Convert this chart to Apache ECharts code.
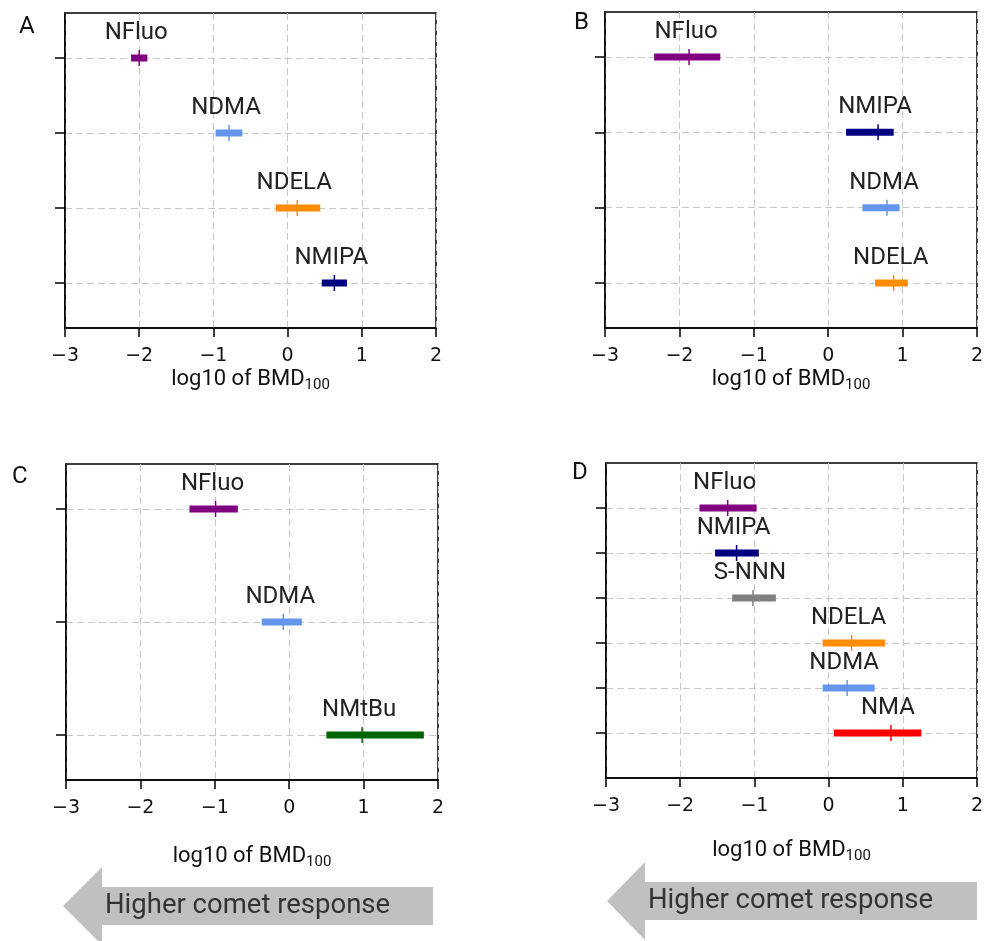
<!DOCTYPE html>
<html>
<head>
<meta charset="utf-8">
<script src="https://cdn.jsdelivr.net/npm/echarts@6/dist/echarts.min.js"></script>
<style>
html, body { margin: 0; padding: 0; background: #fff; }
#chart { width: 993px; height: 941px; }
</style>
</head>
<body>
<div id="chart"></div>
<script>
// panel A
var namesA = ['NFluo', 'NDMA', 'NDELA', 'NMIPA'];
var lowA   = [-2.11, -0.97, -0.16, 0.46];
var medA   = [-2.00, -0.79, 0.13, 0.63];
var highA  = [-1.89, -0.61, 0.44, 0.80];
// panel B
var namesB = ['NFluo', 'NMIPA', 'NDMA', 'NDELA'];
var lowB   = [-2.34, 0.24, 0.46, 0.63];
var medB   = [-1.87, 0.67, 0.79, 0.88];
var highB  = [-1.45, 0.88, 0.96, 1.07];
// panel C
var namesC = ['NFluo', 'NDMA', 'NMtBu'];
var lowC   = [-1.34, -0.37, 0.50];
var medC   = [-0.99, -0.08, 0.98];
var highC  = [-0.69, 0.17, 1.81];
// panel D
var namesD = ['NFluo', 'NMIPA', 'S-NNN', 'NDELA', 'NDMA', 'NMA'];
var lowD   = [-1.74, -1.53, -1.30, -0.08, -0.08, 0.07];
var medD   = [-1.36, -1.24, -1.02, 0.31, 0.25, 0.84];
var highD  = [-0.97, -0.94, -0.71, 0.76, 0.62, 1.25];

var xTicks = [-3, -2, -1, 0, 1, 2];

var colors = {
    'NFluo': '#800080',
    'NDMA': '#6495ed',
    'NDELA': '#ff8c00',
    'NMIPA': '#000080',
    'NMtBu': '#006400',
    'S-NNN': '#808080',
    'NMA': '#ff0000'
};

var FONT = 'Roboto, "DejaVu Sans", sans-serif';

var panels = [
    {letter: 'A', names: namesA, low: lowA, med: medA, high: highA, grid: {left: 65, top: 13, width: 371, height: 315}, nameGap: 38},
    {letter: 'B', names: namesB, low: lowB, med: medB, high: highB, grid: {left: 605, top: 12, width: 372, height: 316}, nameGap: 38},
    {letter: 'C', names: namesC, low: lowC, med: medC, high: highC, grid: {left: 66, top: 464, width: 372, height: 316}, nameGap: 63},
    {letter: 'D', names: namesD, low: lowD, med: medD, high: highD, grid: {left: 606, top: 463, width: 371, height: 315}, nameGap: 59}
];

var grids = [], xAxes = [], yAxes = [], series = [];
var gridLine = {show: true, lineStyle: {color: '#c8c8c8', type: [7, 4], width: 1}};

panels.forEach(function (p, k) {
    var n = p.names.length;
    // rows sit 45px inside the frame at top and bottom
    var step = (p.grid.height - 90) / (n - 1);
    var pad = 45 / step;

    grids.push(Object.assign({show: true, borderColor: '#000', borderWidth: 1.5}, p.grid));

    xAxes.push({
        type: 'value', gridIndex: k, min: -3, max: 2, interval: 1,
        name: '{a|log10 of BMD}{b|100}',
        nameLocation: 'middle', nameGap: p.nameGap,
        nameTextStyle: {
            rich: {
                a: {fontFamily: FONT, fontSize: 22, color: '#111'},
                b: {fontFamily: FONT, fontSize: 15, color: '#111', padding: [12, 0, 0, 0]}
            }
        },
        axisLine: {show: true, onZero: false, lineStyle: {color: '#000', width: 1.5}},
        axisTick: {show: true, length: 9, lineStyle: {color: '#000', width: 1.5}},
        axisLabel: {
            fontFamily: '"DejaVu Sans", sans-serif', fontSize: 19, color: '#111', margin: 19,
            formatter: function (v) { return v < 0 ? '\u2212' + Math.abs(v) : String(v); }
        },
        splitLine: gridLine
    });

    var rows = p.names.map(function (_, i) { return i; });
    yAxes.push({
        type: 'value', gridIndex: k, inverse: true, min: -pad, max: n - 1 + pad,
        axisLine: {show: true, onZero: false, lineStyle: {color: '#000', width: 1.5}},
        axisTick: {show: true, length: 10, customValues: rows, lineStyle: {color: '#000', width: 1.5}},
        axisLabel: {show: false, customValues: rows},
        splitLine: gridLine
    });

    var names = p.names;
    series.push({
        type: 'custom', xAxisIndex: k, yAxisIndex: k, clip: false,
        data: names.map(function (nm, i) { return [i, p.low[i], p.med[i], p.high[i]]; }),
        renderItem: function (params, api) {
            var i = api.value(0);
            var nm = names[i];
            var c = colors[nm];
            var lo = api.coord([api.value(1), i]);
            var md = api.coord([api.value(2), i]);
            var hi = api.coord([api.value(3), i]);
            return {
                type: 'group',
                children: [
                    {type: 'rect', shape: {x: lo[0], y: lo[1] - 3.5, width: hi[0] - lo[0], height: 7}, style: {fill: c}},
                    {type: 'line', shape: {x1: md[0], y1: md[1] - 8, x2: md[0], y2: md[1] + 8}, style: {stroke: c, lineWidth: 1.5}},
                    {type: 'text', x: md[0] - 3, y: md[1] - 13,
                     style: {text: nm, fill: '#222', font: '24px ' + FONT, align: 'center', verticalAlign: 'bottom'}}
                ]
            };
        }
    });
});

// panel letters and the two arrows
var graphics = [
    {type: 'text', left: 19, top: 15, style: {text: 'A', font: '24px ' + FONT, fill: '#111'}},
    {type: 'text', left: 574, top: 11, style: {text: 'B', font: '24px ' + FONT, fill: '#111'}},
    {type: 'text', left: 12, top: 465, style: {text: 'C', font: '24px ' + FONT, fill: '#111'}},
    {type: 'text', left: 572, top: 461, style: {text: 'D', font: '24px ' + FONT, fill: '#111'}}
];

function arrow(tipX, tipY, backX, endX, headTop, headBot, bodyTop, bodyBot) {
    return {
        type: 'polygon',
        shape: {points: [[tipX, tipY], [backX, headTop], [backX, bodyTop], [endX, bodyTop], [endX, bodyBot], [backX, bodyBot], [backX, headBot]]},
        style: {fill: '#c0c0c0'}
    };
}
graphics.push(arrow(63, 906, 102, 433, 867, 945, 887, 925));
graphics.push({type: 'text', x: 105, y: 906, style: {text: 'Higher comet response', font: '27.5px ' + FONT, fill: '#333', verticalAlign: 'middle'}});
graphics.push(arrow(607, 901, 645, 977, 862, 940, 882, 920));
graphics.push({type: 'text', x: 648, y: 901, style: {text: 'Higher comet response', font: '27.5px ' + FONT, fill: '#333', verticalAlign: 'middle'}});

var chart = echarts.init(document.getElementById('chart'));
chart.setOption({
    animation: false,
    backgroundColor: '#fff',
    grid: grids,
    xAxis: xAxes,
    yAxis: yAxes,
    series: series,
    graphic: graphics
});
</script>
</body>
</html>
